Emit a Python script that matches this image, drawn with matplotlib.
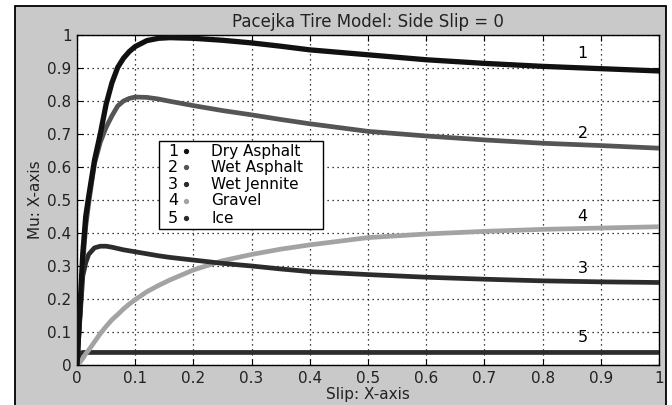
import matplotlib
matplotlib.use("Agg")
from matplotlib import pyplot as plt
from matplotlib.patches import Rectangle

plt.rcParams['font.family'] = ['DejaVu Sans']

# slip values
slip = [0, 0.005, 0.01, 0.015, 0.02, 0.03, 0.04, 0.05, 0.06, 0.07, 0.08,
        0.09, 0.1, 0.12, 0.14, 0.16, 0.2, 0.25, 0.3, 0.35, 0.4, 0.5, 0.6,
        0.7, 0.8, 0.9, 1.0]

# friction coefficient for each surface
dry_asphalt = [0, 0.17, 0.34, 0.45, 0.51, 0.62, 0.70, 0.79, 0.855, 0.902,
               0.93, 0.95, 0.965, 0.983, 0.99, 0.992, 0.99, 0.984, 0.976,
               0.966, 0.955, 0.94, 0.925, 0.914, 0.905, 0.898, 0.891]
wet_asphalt = [0, 0.15, 0.31, 0.42, 0.49, 0.61, 0.675, 0.72, 0.755, 0.785,
               0.80, 0.808, 0.812, 0.811, 0.806, 0.799, 0.786, 0.771, 0.758,
               0.744, 0.731, 0.708, 0.694, 0.682, 0.672, 0.665, 0.657]
wet_jennite = [0, 0.14, 0.27, 0.31, 0.335, 0.355, 0.36, 0.36, 0.357, 0.353,
               0.349, 0.346, 0.343, 0.337, 0.331, 0.326, 0.318, 0.308, 0.30,
               0.291, 0.283, 0.274, 0.266, 0.26, 0.255, 0.252, 0.25]
gravel = [0, 0.008, 0.02, 0.034, 0.045, 0.07, 0.095, 0.117, 0.137, 0.153,
          0.17, 0.185, 0.198, 0.222, 0.241, 0.258, 0.288, 0.316, 0.335,
          0.351, 0.364, 0.386, 0.397, 0.405, 0.411, 0.415, 0.419]
ice = [0, 0.036, 0.038, 0.038, 0.038, 0.038, 0.038, 0.038, 0.038, 0.038,
       0.038, 0.038, 0.038, 0.038, 0.038, 0.038, 0.038, 0.038, 0.038,
       0.038, 0.038, 0.038, 0.038, 0.038, 0.038, 0.038, 0.038]

names = ['Dry Asphalt', 'Wet Asphalt', 'Wet Jennite', 'Gravel', 'Ice']
numbers = ['1', '2', '3', '4', '5']
colors = ['#111111', '#555555', '#2c2c2c', '#a3a3a3', '#2c2c2c']
widths = [3.8, 3.4, 3.4, 3.4, 3.4]
# where the curve numbers sit (x, y) in data units
label_x = [0.869, 0.869, 0.869, 0.869, 0.869]
label_y = [0.945, 0.703, 0.291, 0.451, 0.082]

fig = plt.figure(figsize=(6.72, 4.05), dpi=100)
fig.patch.set_facecolor('white')

# grey matlab figure window
fig.patches.append(Rectangle((15 / 672, -0.01), (666 - 15) / 672, (405 - 6) / 405 + 0.01,
                             transform=fig.transFigure, facecolor='#c9c9c9',
                             edgecolor='black', linewidth=1.3, zorder=-5))

ax = fig.add_axes([77 / 672, 40 / 405, (659 - 77) / 672, (365 - 35) / 405])
ax.set_zorder(1)
ax.set_facecolor('white')

series = [dry_asphalt, wet_asphalt, wet_jennite, gravel, ice]
for i in range(len(series)):
    ax.plot(slip, series[i], color=colors[i], linewidth=widths[i],
            solid_joinstyle='round', zorder=3 + (5 - i) * 0.1)
    ax.text(label_x[i], label_y[i], numbers[i], fontsize=11.5,
            ha='center', va='center', zorder=5)

ax.set_xlim(0, 1)
ax.set_ylim(0, 1)
ax.set_xticks([i / 10 for i in range(11)])
ax.set_yticks([i / 10 for i in range(11)])
ax.set_xticklabels(['0', '0.1', '0.2', '0.3', '0.4', '0.5', '0.6', '0.7', '0.8', '0.9', '1'])
ax.set_yticklabels(['0', '0.1', '0.2', '0.3', '0.4', '0.5', '0.6', '0.7', '0.8', '0.9', '1'])
ax.tick_params(direction='in', top=True, right=True, length=4, width=0.8,
               labelsize=11, pad=4, colors='black', labelcolor='#222222')
ax.grid(True, linestyle=(0, (1, 3)), color='black', linewidth=0.9)
for s in ax.spines.values():
    s.set_linewidth(1.0)

ax.set_title('Pacejka Tire Model: Side Slip = 0', fontsize=12, color='#222222', pad=6)
ax.set_xlabel('Slip: X-axis', fontsize=11, color='#222222', labelpad=1)
ax.set_ylabel('Mu: X-axis', fontsize=11, color='#222222', labelpad=3)

# legend box drawn by hand, numbers before the markers
ax.add_patch(Rectangle((0.141, 0.412), 0.282, 0.267, transform=ax.transAxes,
                       facecolor='white', edgecolor='black', linewidth=1.0, zorder=6))
row_y = [0.648, 0.5985, 0.547, 0.497, 0.445]
for i in range(len(names)):
    ax.text(0.165, row_y[i], numbers[i], transform=ax.transAxes, fontsize=11.5,
            ha='center', va='center', zorder=7)
    ax.plot([0.188], [row_y[i]], marker='o', markersize=2.8, color=colors[i],
            transform=ax.transAxes, zorder=7, clip_on=False)
    ax.text(0.231, row_y[i], names[i], transform=ax.transAxes, fontsize=11,
            ha='left', va='center', zorder=7)

fig.savefig('out.png', dpi=100)
